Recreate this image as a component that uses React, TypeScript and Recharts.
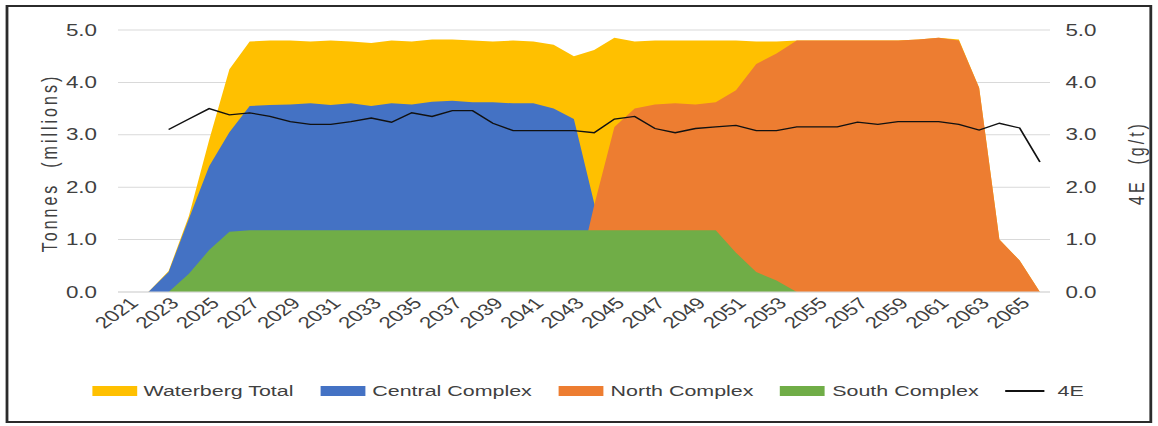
import React from 'react';
import {
  Area,
  CartesianGrid,
  ComposedChart,
  Line,
  XAxis,
  YAxis
} from 'recharts';

// years on the category axis
const years = [
  '2021', '2022', '2023', '2024', '2025', '2026', '2027', '2028', '2029', '2030',
  '2031', '2032', '2033', '2034', '2035', '2036', '2037', '2038', '2039', '2040',
  '2041', '2042', '2043', '2044', '2045', '2046', '2047', '2048', '2049', '2050',
  '2051', '2052', '2053', '2054', '2055', '2056', '2057', '2058', '2059', '2060',
  '2061', '2062', '2063', '2064', '2065', '2066'
];

// tonnes (millions)
const waterbergTotal = [
  null, 0, 0.4, 1.45, 2.9, 4.25, 4.78, 4.8, 4.8, 4.78,
  4.8, 4.78, 4.75, 4.8, 4.78, 4.82, 4.82, 4.8, 4.78, 4.8,
  4.78, 4.72, 4.5, 4.62, 4.85, 4.78, 4.8, 4.8, 4.8, 4.8,
  4.8, 4.78, 4.78, 4.8, 4.8, 4.8, 4.8, 4.8, 4.8, 4.82,
  4.85, 4.82, 3.9, 1.0, 0.6, 0
];
const centralComplex = [
  null, 0, 0.38, 1.4, 2.4, 3.05, 3.55, 3.57, 3.58, 3.6,
  3.57, 3.6, 3.55, 3.6, 3.58, 3.63, 3.65, 3.62, 3.62, 3.6,
  3.6, 3.5, 3.3, 1.7, 0, null, null, null, null, null,
  null, null, null, null, null, null, null, null, null, null,
  null, null, null, null, null, null
];
const northComplex = [
  null, null, null, null, null, null, null, null, null, null,
  null, null, null, null, null, null, null, null, null, null,
  null, null, 0, 1.65, 3.15, 3.5, 3.58, 3.6, 3.58, 3.62,
  3.85, 4.35, 4.55, 4.8, 4.8, 4.8, 4.8, 4.8, 4.8, 4.82,
  4.85, 4.8, 3.9, 1.0, 0.6, 0
];
const southComplex = [
  null, null, 0, 0.35, 0.8, 1.15, 1.18, 1.18, 1.18, 1.18,
  1.18, 1.18, 1.18, 1.18, 1.18, 1.18, 1.18, 1.18, 1.18, 1.18,
  1.18, 1.18, 1.18, 1.18, 1.18, 1.18, 1.18, 1.18, 1.18, 1.18,
  0.75, 0.38, 0.22, 0, null, null, null, null, null, null,
  null, null, null, null, null, null
];
// 4E grade (g/t)
const grade4E = [
  null, null, 3.1, 3.3, 3.5, 3.38, 3.42, 3.35, 3.25, 3.2,
  3.2, 3.25, 3.32, 3.24, 3.42, 3.35, 3.46, 3.46, 3.22, 3.08,
  3.08, 3.08, 3.08, 3.04, 3.3, 3.35, 3.12, 3.04, 3.12, 3.15,
  3.18, 3.08, 3.08, 3.15, 3.15, 3.15, 3.24, 3.2, 3.25, 3.25,
  3.25, 3.2, 3.09, 3.22, 3.13, 2.48
];

const yTicks = [0, 1, 2, 3, 4, 5];

const data = years.map((year, i) => ({
  year,
  total: waterbergTotal[i],
  central: centralComplex[i],
  north: northComplex[i],
  south: southComplex[i],
  grade: grade4E[i]
}));

const FONT = '"Liberation Sans", Arial, sans-serif';
const TEXT = '#404040';
// the source picture is stretched sideways, so the whole chart is drawn narrow and widened
const STRETCH = 1.4;
const W = 827;
const H = 426;

const legendItems = [
  { name: 'Waterberg Total', color: '#FFC000', line: false },
  { name: 'Central Complex', color: '#4472C4', line: false },
  { name: 'North Complex', color: '#ED7D31', line: false },
  { name: 'South Complex', color: '#70AD47', line: false },
  { name: '4E', color: '#111111', line: true }
];

const YearTick = (props: any) => {
  const { x, y, payload } = props;
  return (
    <g transform={`translate(${x},${y})`}>
      <text
        x={0}
        y={0}
        dy="0.72em"
        textAnchor="end"
        transform="rotate(-45)"
        fill={TEXT}
        fontSize={16}
        fontFamily={FONT}
      >
        {payload.value}
      </text>
    </g>
  );
};

const titleStyle = (left: number): React.CSSProperties => ({
  position: 'absolute',
  left,
  top: 163,
  transform: 'translate(-50%, -50%) rotate(-90deg)',
  whiteSpace: 'pre',
  fontFamily: FONT,
  fontSize: 16,
  letterSpacing: 3,
  color: TEXT
});

export default function App() {
  return (
    <div
      style={{
        position: 'absolute',
        left: 0,
        top: 0,
        width: W,
        height: H,
        transform: `scaleX(${STRETCH})`,
        transformOrigin: '0 0',
        fontFamily: FONT
      }}
    >
      <div
        style={{
          position: 'absolute',
          left: 4,
          top: 5,
          width: 819,
          height: 418,
          boxSizing: 'border-box',
          border: '2px solid #2b2b2b'
        }}
      />
      <ComposedChart
        width={W}
        height={H}
        data={data}
        margin={{ top: 30, right: 17, left: 24.3, bottom: 74 }}
      >
        <CartesianGrid vertical={false} stroke="#d9d9d9" yAxisId="left" />
        <XAxis
          dataKey="year"
          interval={1}
          tickLine={false}
          axisLine={{ stroke: '#d9d9d9' }}
          tickSize={0}
          tickMargin={4}
          height={60}
          padding={{ left: 7.2, right: 7.2 }}
          tick={<YearTick />}
        />
        <YAxis
          yAxisId="left"
          domain={[0, 5]}
          ticks={yTicks}
          width={60}
          tickLine={false}
          axisLine={false}
          tickSize={0}
          tickMargin={15}
          tickFormatter={(v) => Number(v).toFixed(1)}
          tick={{ fill: TEXT, fontSize: 16, fontFamily: FONT }}
        />
        <YAxis
          yAxisId="right"
          orientation="right"
          domain={[0, 5]}
          ticks={yTicks}
          width={60}
          tickLine={false}
          axisLine={false}
          tickSize={0}
          tickMargin={11}
          tickFormatter={(v) => Number(v).toFixed(1)}
          tick={{ fill: TEXT, fontSize: 16, fontFamily: FONT, textAnchor: 'start' }}
        />
        <Area
          yAxisId="left"
          type="linear"
          dataKey="total"
          name="Waterberg Total"
          fill="#FFC000"
          fillOpacity={1}
          stroke="none"
          isAnimationActive={false}
        />
        <Area
          yAxisId="left"
          type="linear"
          dataKey="central"
          name="Central Complex"
          fill="#4472C4"
          fillOpacity={1}
          stroke="none"
          isAnimationActive={false}
        />
        <Area
          yAxisId="left"
          type="linear"
          dataKey="north"
          name="North Complex"
          fill="#ED7D31"
          fillOpacity={1}
          stroke="none"
          isAnimationActive={false}
        />
        <Area
          yAxisId="left"
          type="linear"
          dataKey="south"
          name="South Complex"
          fill="#70AD47"
          fillOpacity={1}
          stroke="none"
          isAnimationActive={false}
        />
        <Line
          yAxisId="right"
          type="linear"
          dataKey="grade"
          name="4E"
          stroke="#111111"
          strokeWidth={1.3}
          dot={false}
          activeDot={false}
          isAnimationActive={false}
        />
      </ComposedChart>
      <div style={titleStyle(36.4)}>{'Tonnes  (millions)'}</div>
      <div style={titleStyle(812)}>{'4E  (g/t)'}</div>
      <div
        style={{
          position: 'absolute',
          left: 65.5,
          top: 382,
          display: 'flex',
          alignItems: 'center',
          fontSize: 15.3,
          lineHeight: '18px',
          color: TEXT,
          whiteSpace: 'nowrap'
        }}
      >
        {legendItems.map((item) => (
          <div
            key={item.name}
            style={{ display: 'flex', alignItems: 'center', marginRight: 19.3 }}
          >
            <span
              style={{
                display: 'inline-block',
                width: item.line ? 28 : 32,
                height: item.line ? 1.3 : 10,
                background: item.color,
                marginRight: item.line ? 9 : 5
              }}
            />
            <span>{item.name}</span>
          </div>
        ))}
      </div>
    </div>
  );
}
